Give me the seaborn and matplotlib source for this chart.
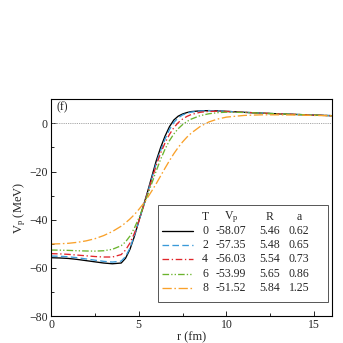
import numpy as np
import pandas as pd
import matplotlib
matplotlib.use("Agg")
import matplotlib.pyplot as plt
from matplotlib.patches import Rectangle
from matplotlib.ticker import MultipleLocator
import seaborn as sns

# ---- data ----
r = [0, 0.5, 1, 1.5, 2, 2.5, 3, 3.5, 4, 4.25, 4.5, 4.75, 5, 5.25, 5.5, 5.75,
     6, 6.25, 6.5, 6.75, 7, 7.25, 7.5, 7.75, 8, 8.5, 9, 9.5, 10, 11, 12, 13,
     14, 15, 16]
v_T0 = [-55.8, -55.9, -56.1, -56.5, -57.0, -57.5, -58.0, -58.3, -58.0, -56.0,
        -52.3, -47.0, -40.7, -34.6, -28.5, -22.0, -15.5, -10.0, -5.3, -1.4,
        1.4, 3.0, 3.9, 4.5, 4.9, 5.2, 5.3, 5.2, 5.0, 4.6, 4.25, 3.95, 3.7,
        3.45, 3.2]
v_T2 = [-55.1, -55.2, -55.4, -55.8, -56.3, -56.8, -57.3, -57.6, -57.2, -55.3,
        -51.8, -46.6, -40.8, -34.9, -29.0, -22.8, -16.6, -11.2, -6.5, -2.6,
        0.4, 2.3, 3.5, 4.2, 4.7, 5.15, 5.3, 5.2, 5.0, 4.6, 4.25, 3.95, 3.7,
        3.45, 3.2]
v_T4 = [-54.1, -54.2, -54.4, -54.7, -55.0, -55.3, -55.5, -55.5, -54.5, -52.6,
        -49.7, -45.7, -40.7, -35.0, -29.1, -23.2, -17.4, -12.3, -8.1, -4.6,
        -1.8, 0.3, 1.8, 2.9, 3.7, 4.6, 5.0, 5.05, 4.95, 4.6, 4.25, 3.95, 3.7,
        3.45, 3.2]
v_T6 = [-52.6, -52.65, -52.75, -52.9, -53.0, -53.05, -52.9, -52.3, -50.8,
        -49.2, -46.8, -43.5, -39.4, -34.8, -29.9, -24.8, -19.7, -14.9, -10.7,
        -7.2, -4.4, -2.2, -0.5, 0.8, 1.8, 3.2, 4.0, 4.45, 4.65, 4.55, 4.25,
        3.95, 3.7, 3.45, 3.2]
v_T8 = [-50.1, -50.0, -49.8, -49.4, -48.8, -47.9, -46.6, -44.9, -42.7, -41.3,
        -39.7, -37.9, -35.8, -33.5, -30.9, -28.0, -25.0, -21.8, -18.6, -15.5,
        -12.6, -10.0, -7.7, -5.7, -4.0, -1.3, 0.6, 1.8, 2.6, 3.3, 3.55, 3.55,
        3.45, 3.3, 3.15]

T_vals = ["0", "2", "4", "6", "8"]
Vp_vals = ["-58.07", "-57.35", "-56.03", "-53.99", "-51.52"]
R_vals = ["5.46", "5.48", "5.54", "5.65", "5.84"]
a_vals = ["0.62", "0.65", "0.73", "0.86", "1.25"]

series = [v_T0, v_T2, v_T4, v_T6, v_T8]

# ---- style ----
sns.set_style("ticks")
plt.rcParams["font.family"] = ["Liberation Serif", "DejaVu Serif"]
plt.rcParams["mathtext.fontset"] = "custom"
plt.rcParams["mathtext.rm"] = "Liberation Serif"
plt.rcParams["mathtext.it"] = "Liberation Serif:italic"
plt.rcParams["axes.unicode_minus"] = True

FS = 8.5
colors = {"0": "#000000", "2": "#3a9ad9", "4": "#e0262b",
          "6": "#6ab42d", "8": "#f9a12a"}
dashes = {"0": "", "2": (5, 2.5), "4": (5, 2, 1, 2),
          "6": (5, 1.6, 1, 1.6, 1, 1.6), "8": (7, 2, 1.2, 2)}

frames = []
for t, v in zip(T_vals, series):
    frames.append(pd.DataFrame({"r": r, "V": v, "T": t}))
df = pd.concat(frames, ignore_index=True)

fig = plt.figure(figsize=(3.43, 3.43), dpi=100)
ax = fig.add_axes([0.1487, 0.0787, 0.8184, 0.6318])

ax.axhline(0, color="#888888", ls=(0, (1, 1.2)), lw=0.6, zorder=1)

sns.lineplot(data=df, x="r", y="V", hue="T", style="T", palette=colors,
             dashes=dashes, lw=0.95, legend=False, ax=ax, sort=False,
             hue_order=T_vals, style_order=T_vals)

ax.set_xlim(0, 16)
ax.set_ylim(-80, 10)
ax.xaxis.set_major_locator(MultipleLocator(5))
ax.xaxis.set_minor_locator(MultipleLocator(2.5))
ax.yaxis.set_major_locator(MultipleLocator(20))
ax.yaxis.set_minor_locator(MultipleLocator(10))
ax.set_yticks([-80, -60, -40, -20, 0])
ax.tick_params(which="both", direction="in", top=False, right=False,
               labelsize=FS, width=0.7, pad=2.5)
ax.tick_params(which="major", length=3.5)
ax.tick_params(which="minor", length=2)
for s in ax.spines.values():
    s.set_linewidth(0.8)
    s.set_color("black")

ax.set_xlabel("r (fm)", fontsize=9, labelpad=0)
ax.set_ylabel(r"V$_{\rm p}$ (MeV)", fontsize=9, labelpad=1)

ax.text(0.021, 0.99, "(f)", transform=ax.transAxes, fontsize=FS,
        va="top", ha="left")

# ---- table-like legend ----
ax.add_patch(Rectangle((0.382, 0.065), 0.606, 0.447, transform=ax.transAxes,
                       facecolor="white", edgecolor="#555555", lw=0.7,
                       zorder=5))
col_x = [0.549, 0.641, 0.780, 0.884]
hdr_y = 0.457
ax.text(col_x[0], hdr_y, "T", transform=ax.transAxes, ha="center",
        va="center", fontsize=FS, zorder=6)
ax.text(col_x[1], hdr_y, r"V$_{\rm p}$", transform=ax.transAxes,
        ha="center", va="center", fontsize=FS, zorder=6)
ax.text(col_x[2], hdr_y, "R", transform=ax.transAxes, ha="center",
        va="center", fontsize=FS, zorder=6)
ax.text(col_x[3], hdr_y, "a", transform=ax.transAxes, ha="center",
        va="center", fontsize=FS, zorder=6)
row_y = [0.392, 0.328, 0.263, 0.196, 0.131]
for i, t in enumerate(T_vals):
    y = row_y[i]
    ln, = ax.plot([0.395, 0.506], [y, y], transform=ax.transAxes,
                  color=colors[t], lw=0.95, zorder=6)
    if dashes[t]:
        ln.set_dashes(dashes[t])
    for cx, txt in zip(col_x, [t, Vp_vals[i], R_vals[i], a_vals[i]]):
        ax.text(cx, y, txt, transform=ax.transAxes, ha="center",
                va="center", fontsize=FS, zorder=6)

fig.savefig("out.png", dpi=100)
